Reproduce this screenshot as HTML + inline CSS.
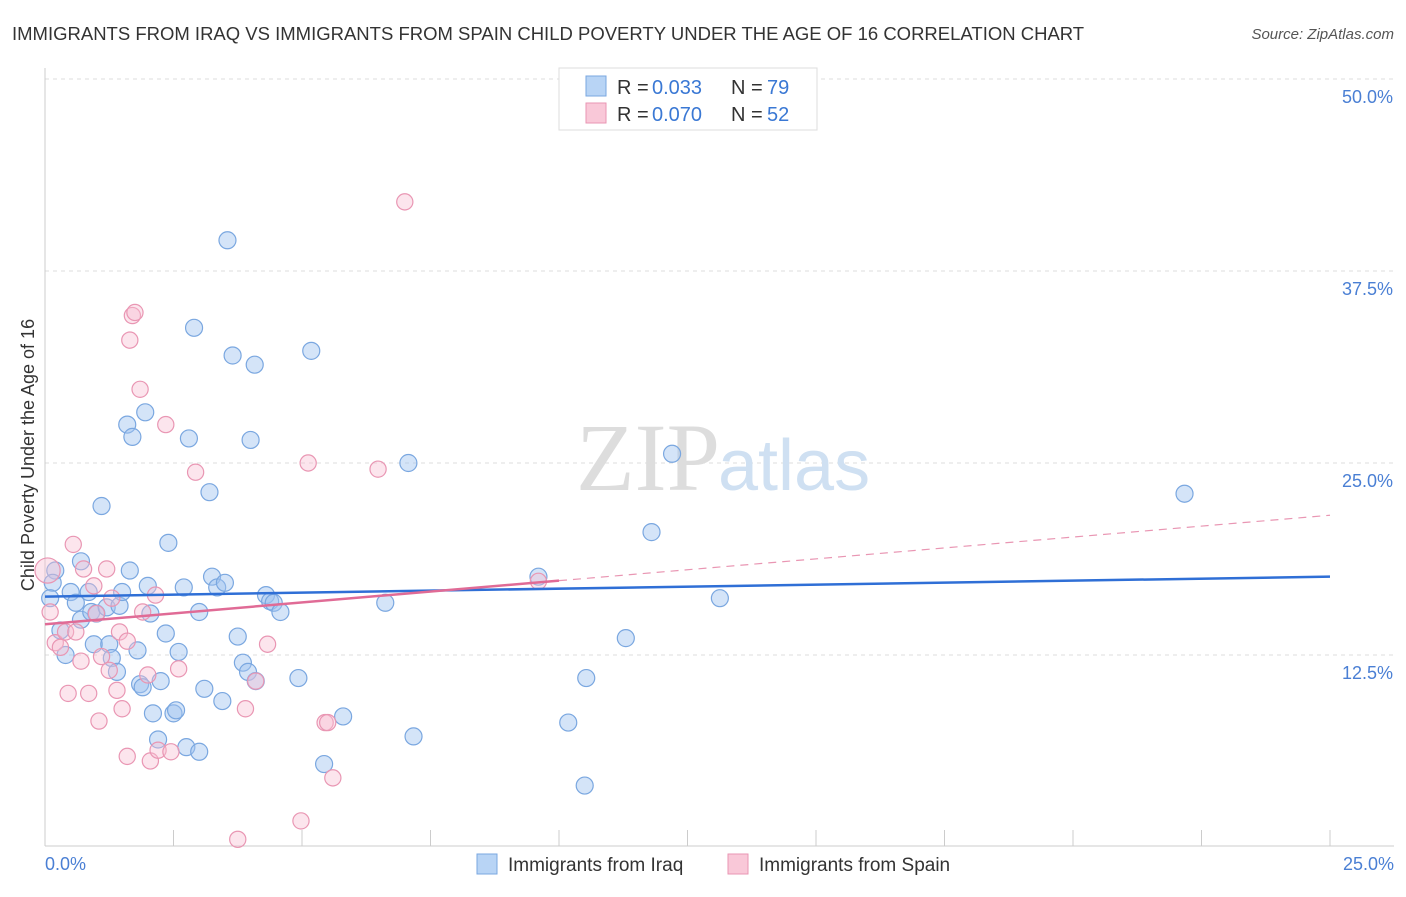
<!DOCTYPE html>
<html><head><meta charset="utf-8"><style>
body{margin:0;background:#fff;font-family:"Liberation Sans",sans-serif;}
</style></head><body>
<svg width="1406" height="892" xmlns="http://www.w3.org/2000/svg" font-family="Liberation Sans, sans-serif">
<text x="12" y="40" font-size="18.5" fill="#333">IMMIGRANTS FROM IRAQ VS IMMIGRANTS FROM SPAIN CHILD POVERTY UNDER THE AGE OF 16 CORRELATION CHART</text>
<text x="1394" y="39" font-size="15" fill="#555" font-style="italic" text-anchor="end">Source: ZipAtlas.com</text>
<g id="grid"></g>
<text x="720" y="490" font-size="96" font-family="Liberation Serif, serif" fill="#ddd" text-anchor="end">ZIP</text>
<text x="718" y="490" font-size="72" fill="#cfe0f2">atlas</text>
<line x1="45" y1="68" x2="45" y2="846" stroke="#ccc"/>
<line x1="45" y1="846" x2="1394" y2="846" stroke="#ccc"/>
<text x="34" y="455" font-size="18" fill="#333" text-anchor="middle" transform="rotate(-90 34 455)">Child Poverty Under the Age of 16</text>
<text x="45" y="870" font-size="18" fill="#4a7fd4">0.0%</text>
<text x="1394" y="870" font-size="18" fill="#4a7fd4" text-anchor="end">25.0%</text>
<g id="pts"></g>
<g id="trends"></g>
<g>
<rect x="559" y="68" width="258" height="62" fill="#fff" stroke="#ddd"/>
<rect x="586" y="76" width="20" height="20" fill="#b8d4f5" stroke="#7aa7e0"/>
<rect x="586" y="103" width="20" height="20" fill="#f9c8d8" stroke="#e996b3"/>
<text y="94" font-size="20" fill="#333"><tspan x="617">R =</tspan><tspan x="652" fill="#3a78d4">0.033</tspan><tspan x="731">N =</tspan><tspan x="767" fill="#3a78d4">79</tspan></text>
<text y="121" font-size="20" fill="#333"><tspan x="617">R =</tspan><tspan x="652" fill="#3a78d4">0.070</tspan><tspan x="731">N =</tspan><tspan x="767" fill="#3a78d4">52</tspan></text>
</g>
<g>
<rect x="477" y="854" width="20" height="20" fill="#b8d4f5" stroke="#7aa7e0"/>
<text x="508" y="871" font-size="19" fill="#333">Immigrants from Iraq</text>
<rect x="728" y="854" width="20" height="20" fill="#f9c8d8" stroke="#e996b3"/>
<text x="759" y="871" font-size="19" fill="#333">Immigrants from Spain</text>
</g>
</svg>
<script>
const yTicks=[12.5,25,37.5,50];
const xTickCount=10;
const iraqX=[0.2,0.15,0.1,0.5,0.3,0.4,0.6,0.7,0.7,0.85,0.9,0.95,1.0,1.1,1.2,1.25,1.3,1.4,1.45,1.5,1.6,1.65,1.7,1.8,1.85,1.9,1.95,2.0,2.05,2.1,2.2,2.25,2.35,2.4,2.5,2.55,2.6,2.7,2.75,2.8,2.9,3.0,3.1,3.2,3.25,3.35,3.45,3.5,3.55,3.65,3.75,3.85,3.95,4.0,4.08,4.1,4.3,4.38,4.45,4.58,4.93,5.18,5.43,5.8,6.62,7.07,7.17,9.6,10.18,10.5,10.53,11.3,11.8,12.2,13.13,22.17,3.0];
const iraqY=[18.0,17.2,16.2,16.6,14.1,12.5,15.9,18.6,14.8,16.6,15.3,13.2,15.2,22.2,15.6,13.2,12.3,11.4,15.7,16.6,27.5,18.0,26.7,12.8,10.6,10.4,28.3,17.0,15.2,8.7,7.0,10.8,13.9,19.8,8.7,8.9,12.7,16.9,6.5,26.6,33.8,15.3,10.3,23.1,17.6,16.9,9.5,17.2,39.5,32.0,13.7,12.0,11.4,26.5,31.4,10.8,16.4,16.0,15.9,15.3,11.0,32.3,5.4,8.5,15.9,25.0,7.2,17.6,8.1,4.0,11.0,13.6,20.5,25.6,16.2,23.0,6.2];
const spainX=[0.05,0.1,0.2,0.3,0.4,0.45,0.55,0.6,0.7,0.75,0.85,0.95,1.0,1.05,1.1,1.2,1.25,1.3,1.4,1.45,1.5,1.6,1.6,1.65,1.7,1.75,1.85,1.9,2.0,2.05,2.15,2.2,2.35,2.45,2.6,2.93,3.75,3.9,4.1,4.33,4.98,5.12,5.45,5.5,5.6,6.48,7.0,9.6];
const spainY=[18.0,15.3,13.3,13.0,14.0,10.0,19.7,14.0,12.1,18.1,10.0,17.0,15.2,8.2,12.4,18.1,11.5,16.2,10.2,14.0,9.0,5.9,13.4,33.0,34.6,34.8,29.8,15.3,11.2,5.6,16.4,6.3,27.5,6.2,11.6,24.4,0.5,9.0,10.8,13.2,1.7,25.0,8.1,8.1,4.5,24.6,42.0,17.3];
const spainR=[14,9,9,9,9,9,9,9,9,9,9,9,9,9,9,9,9,9,9,9,9,9,9,9,9,9,9,9,9,9,9,9,9,9,9,9,9,9,9,9,9,9,9,9,9,9,9,9];
const trendIraq=[16.3,17.6];
const trendSpain=[14.5,21.6];
const sx=v=>45+v/25*1285, sy=v=>847-v/50*768;
const NS="http://www.w3.org/2000/svg";
function mk(t,a,p){const e=document.createElementNS(NS,t);for(const k in a)e.setAttribute(k,a[k]);p.appendChild(e);return e;}
const grid=document.getElementById('grid');
yTicks.forEach(t=>{
 const l=mk('line',{x1:45,x2:1394,y1:sy(t),y2:sy(t),stroke:'#ddd','stroke-dasharray':'4 4'},grid);
 
 
 const tx=mk('text',{x:1393,y:sy(t)+24,'font-size':18,fill:'#4a7fd4','text-anchor':'end'},grid);
 tx.textContent=t.toFixed(1)+'%';
 
 
});
for(let i=1;i<=xTickCount;i++){
 const x=sx(25*i/xTickCount);
 const l=mk('line',{x1:x,x2:x,y1:830,y2:846,stroke:'#ccc'},grid);
 
 
}
const pts=document.getElementById('pts');
iraqX.forEach((v,i)=>{
 const c=mk('circle',{cx:sx(v),cy:sy(iraqY[i]),r:8.5,fill:'rgba(160,196,240,0.45)',stroke:'#7aa7e0','stroke-width':1.2},pts);
 
 
});
spainY.forEach((yv,i)=>{
 const c=mk('circle',{cx:sx(spainX[i]),cy:sy(yv),r:spainR[i]*0.9,fill:'rgba(248,190,210,0.4)',stroke:'#e996b3','stroke-width':1.2},pts);
 
 
});
const tr=document.getElementById('trends');
const b=mk('line',{x1:sx(0),y1:sy(trendIraq[0]),x2:sx(25),y2:sy(trendIraq[1]),stroke:'#2f6fd6','stroke-width':2.5},tr);


const yAt=x=>trendSpain[0]+(trendSpain[1]-trendSpain[0])*x/25;
const p1=mk('line',{x1:sx(0),y1:sy(yAt(0)),x2:sx(10),y2:sy(yAt(10)),stroke:'#e06b96','stroke-width':2.5},tr);


const p2=mk('line',{x1:sx(10),y1:sy(yAt(10)),x2:sx(25),y2:sy(yAt(25)),stroke:'#e996b3','stroke-width':1.2,'stroke-dasharray':'8 6'},tr);


</script>
</body></html>
